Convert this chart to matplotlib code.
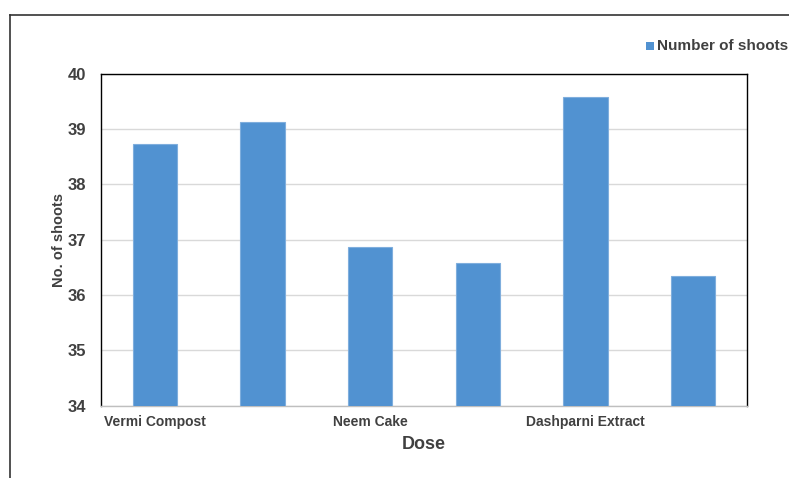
import matplotlib
matplotlib.use("Agg")
import matplotlib.pyplot as plt
from matplotlib.lines import Line2D
from matplotlib.patches import Rectangle

plt.rcParams['font.family'] = ['Liberation Sans', 'DejaVu Sans']

# Data
positions = [0, 1, 2, 3, 4, 5]
tick_labels = ["Vermi Compost", "", "Neem Cake", "", "Dashparni Extract", ""]
shoots = [38.72, 39.12, 36.86, 36.57, 39.57, 36.35]
y_ticks = [34, 35, 36, 37, 38, 39, 40]

text_color = "#404040"
bar_color = "#5192D1"

W, H = 789, 478
fig = plt.figure(figsize=(W / 100, H / 100), dpi=100)
ax = fig.add_axes([101 / W, 1 - 405.5 / H, (747 - 101) / W, (405.5 - 73.7) / H])

ax.bar(positions, shoots, width=0.41, color=bar_color, edgecolor="#7FAEDD",
       linewidth=0.8, zorder=3)

ax.set_xlim(-0.5, 5.5)
ax.set_ylim(34, 40)
ax.set_yticks(y_ticks)
ax.set_xticks(positions)
ax.set_xticklabels(tick_labels)
ax.grid(axis="y", color="#D9D9D9", linewidth=1.0, zorder=0)
ax.tick_params(axis="both", length=0, colors=text_color)
ax.tick_params(axis="y", pad=11, labelsize=12)
ax.tick_params(axis="x", pad=6.5, labelsize=10)
for lab in ax.get_yticklabels() + ax.get_xticklabels():
    lab.set_fontweight("bold")

for side in ("left", "top", "right"):
    ax.spines[side].set_color("#000000")
    ax.spines[side].set_linewidth(1.0)
ax.spines["bottom"].set_color("#BFBFBF")
ax.spines["bottom"].set_linewidth(1.0)

ax.set_ylabel("No. of shoots", fontsize=10.5, fontweight="bold", color=text_color, labelpad=1)
ax.set_xlabel("Dose", fontsize=13, fontweight="bold", color=text_color, labelpad=5.5)

# Legend entry at top right
fig.patches.append(Rectangle((646 / W, 1 - 50 / H), 8 / W, 8 / H, transform=fig.transFigure,
                             facecolor=bar_color, edgecolor="none"))
fig.text(657 / W, 1 - 45.5 / H, "Number of shoots", fontsize=11, fontweight="bold",
         color=text_color, ha="left", va="center")

# Outer frame lines
fig.lines.append(Line2D([10 / W, 10 / W], [0, 1 - 15 / H], transform=fig.transFigure,
                        color="#333333", linewidth=1.2))
fig.lines.append(Line2D([10 / W, 1], [1 - 15 / H, 1 - 15 / H], transform=fig.transFigure,
                        color="#333333", linewidth=1.2))

fig.savefig("out.png", dpi=100)
